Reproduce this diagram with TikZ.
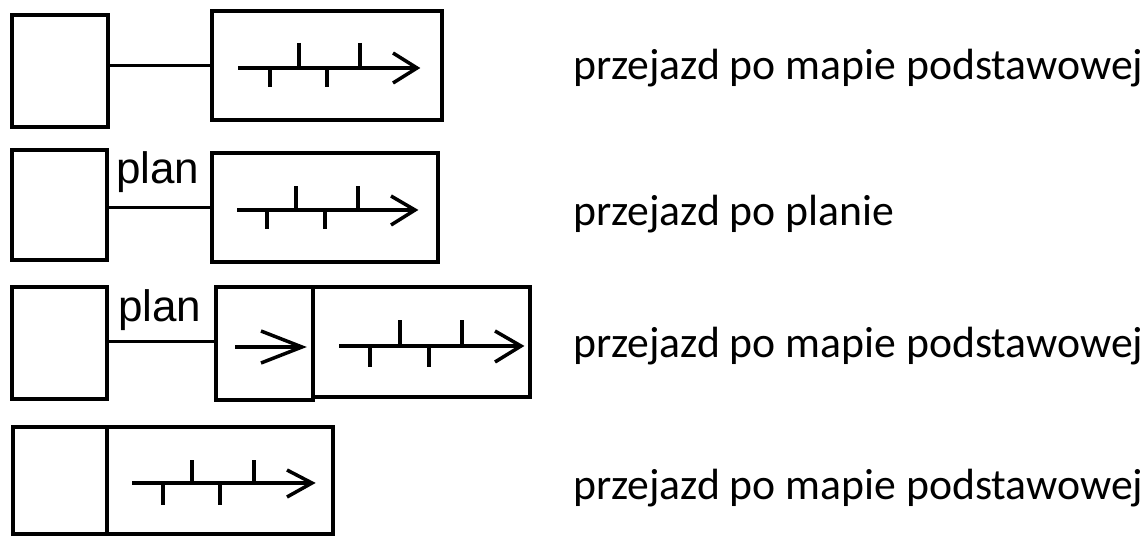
\documentclass[tikz,border=0pt]{standalone}
\usepackage{fontspec}
\setmainfont{Carlito}
\newfontfamily\arialfont{Liberation Sans}
\begin{document}
\begin{tikzpicture}[x=1pt,y=-1pt,
  box/.style={draw,line width=3.5pt,inner sep=0pt,minimum width=#1},
  conn/.style={line width=3pt},
  ray/.style={line width=3.5pt},
  chev/.style={line width=3.5pt,line join=miter},
  tick/.style={line width=3.5pt},
  caption/.style={anchor=base west,inner sep=0pt,font=\fontsize{43.7}{48}\selectfont},
  planlbl/.style={anchor=base west,inner sep=0pt,font=\arialfont\fontsize{44}{48}\selectfont}]
\useasboundingbox (0,0) rectangle (1147,535);
% row 1
\node[box=96pt,minimum height=112pt] (L1) at (60,71) {};
\node[box=230pt,minimum height=109pt] (R1) at (327,65.5) {};
\draw[conn] (L1.east |- R1.west) -- (R1.west);
\draw[ray] (238,68) -- (415,68);
\draw[chev] (393,53) -- (417,68) -- (393,83);
\draw[tick] (270,68) -- (270,87) (327,68) -- (327,87) (299,43) -- (299,68) (360,43) -- (360,68);
\node[caption] (T1) at (573,79) {przejazd po mapie podstawowej};
% row 2
\node[box=95pt,minimum height=110pt] (L2) at (59.5,205) {};
\node[box=226pt,minimum height=109pt] (R2) at (325,207.5) {};
\draw[conn] (L2.east |- R2.west) -- (R2.west);
\node[planlbl] (P2) at (116,183) {plan};
\draw[ray] (237,210) -- (413,210);
\draw[chev] (391,196) -- (415,210) -- (391,225);
\draw[tick] (267,210) -- (267,229) (325,210) -- (325,229) (296,186) -- (296,210) (358,186) -- (358,210);
\node[caption] (T2) at (573,225) {przejazd po planie};
% row 3
\node[box=95pt,minimum height=112pt] (L3) at (59.5,343) {};
\node[box=97pt,minimum height=113pt] (S3) at (264.5,343.5) {};
\node[box=217pt,minimum height=110pt] (B3) at (421.5,342) {};
\draw[conn] (L3.east |- 0,341) -- (S3.west |- 0,341);
\node[planlbl] (P3) at (118,321) {plan};
\draw[ray] (235,347) -- (300,347);
\draw[chev] (261,331) -- (302,347) -- (261,363);
\draw[ray] (339,346) -- (519,346);
\draw[chev] (495,331) -- (521,346) -- (495,362);
\draw[tick] (370,346) -- (370,367) (429,346) -- (429,367) (400,320) -- (400,346) (462,320) -- (462,346);
\node[caption] (T3) at (573,357) {przejazd po mapie podstawowej};
% row 4
\node[box=94pt,minimum height=107pt] (L4) at (60,480.5) {};
\node[box=226pt,minimum height=107pt] (R4) at (220,480.5) {};
\draw[ray] (132,483) -- (310,483);
\draw[chev] (287,470) -- (312,483) -- (287,497);
\draw[tick] (163,483) -- (163,505) (220,483) -- (220,505) (192,460) -- (192,483) (254,460) -- (254,483);
\node[caption] (T4) at (573,499) {przejazd po mapie podstawowej};
\end{tikzpicture}
\end{document}
